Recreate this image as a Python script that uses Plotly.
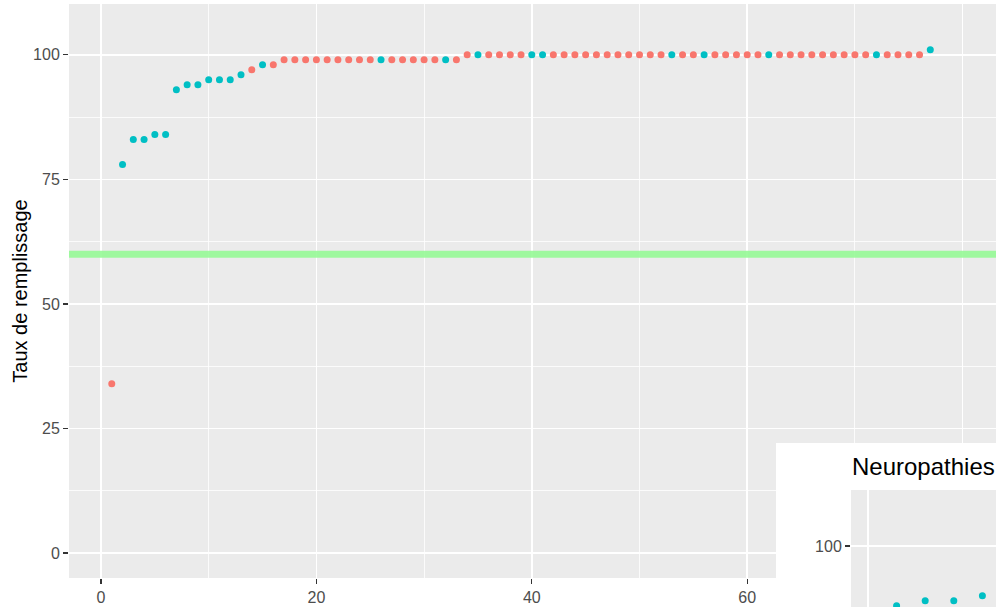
import plotly.graph_objects as go

W, H = 996, 607
FONT = "Liberation Sans, Arial, sans-serif"

# ---- data ----
rank = list(range(1, 78))
taux = [34, 78, 83, 83, 84, 84, 93, 94, 94, 95, 95, 95, 96, 97, 98, 98,
        99, 99, 99, 99, 99, 99, 99, 99, 99, 99, 99, 99, 99, 99, 99, 99, 99,
        100, 100, 100, 100, 100, 100, 100, 100, 100, 100, 100, 100, 100, 100,
        100, 100, 100, 100, 100, 100, 100, 100, 100, 100, 100, 100, 100, 100,
        100, 100, 100, 100, 100, 100, 100, 100, 100, 100, 100, 100, 100, 100,
        100, 101]
teal_ranks = [2, 3, 4, 5, 6, 7, 8, 9, 10, 11, 12, 13, 15, 26, 32, 35, 40, 41,
              53, 56, 62, 72, 77]
group = ["B" if r in teal_ranks else "A" for r in rank]
threshold = 60

inset_title = "Neuropathies"
inset_rank = [1, 2, 3, 4]
inset_taux = [88, 89, 89, 90]

x_ticks = [0, 20, 40, 60, 80]
y_ticks = [0, 25, 50, 75, 100]

RED, TEAL = "#F8766D", "#00BFC4"

X_RANGE = [-2.97, 83.1]
Y_RANGE = [-5.0, 110.2]

fig = go.Figure()
for g, col in (("A", RED), ("B", TEAL)):
    xs = [r for r, gg in zip(rank, group) if gg == g]
    ys = [v for v, gg in zip(taux, group) if gg == g]
    fig.add_trace(go.Scatter(x=xs, y=ys, mode="markers", name=g,
                             marker=dict(color=col, size=7, line=dict(width=0)),
                             xaxis="x", yaxis="y", showlegend=False,
                             hoverinfo="skip"))

# empty trace to create the white inset panel subplot
fig.add_trace(go.Scatter(x=[None], y=[None], xaxis="x2", yaxis="y2",
                         showlegend=False, hoverinfo="skip"))

fig.add_trace(go.Scatter(x=inset_rank, y=inset_taux, mode="markers",
                         marker=dict(color=TEAL, size=7, line=dict(width=0)),
                         xaxis="x3", yaxis="y3", showlegend=False,
                         hoverinfo="skip"))

def px_x(p):
    return p / W

def px_y(p):
    return 1 - p / H

tickfont = dict(family=FONT, size=16, color="#4D4D4D")
common_axis = dict(showline=False, zeroline=False, gridcolor="white",
                   gridwidth=1.6, ticks="outside", ticklen=5, tickwidth=1.3,
                   tickcolor="#333333", tickfont=tickfont)

fig.update_layout(
    width=W, height=H,
    paper_bgcolor="white", plot_bgcolor="#EBEBEB",
    margin=dict(l=0, r=0, t=0, b=0),
    font=dict(family=FONT),
    xaxis=dict(domain=[px_x(69), 1], anchor="y", range=X_RANGE,
               tickvals=x_ticks, minor=dict(dtick=10, tick0=0, showgrid=True,
                                            gridcolor="white", gridwidth=0.8, ticks=""),
               **common_axis),
    yaxis=dict(domain=[px_y(578), px_y(4)], anchor="x", range=Y_RANGE,
               tickvals=y_ticks, minor=dict(dtick=12.5, tick0=0, showgrid=True,
                                            gridcolor="white", gridwidth=0.8, ticks=""),
               title=dict(text="Taux de remplissage",
                          font=dict(family=FONT, size=20, color="black"),
                          standoff=0),
               **common_axis),
    xaxis2=dict(domain=[px_x(776), 1], anchor="y2", visible=False, range=[0, 1]),
    yaxis2=dict(domain=[0, px_y(443)], anchor="x2", visible=False, range=[0, 1]),
    xaxis3=dict(domain=[px_x(851), 1], anchor="y3", range=[-0.594, 4.476],
                dtick=10, tick0=0, showticklabels=False, showline=False,
                zeroline=False, gridcolor="white", gridwidth=1.6, ticks=""),
    yaxis3=dict(domain=[0, px_y(490)], anchor="x3", range=[87.75, 111.24],
                tickvals=y_ticks, minor=dict(dtick=12.5, tick0=0, showgrid=True,
                                             gridcolor="white", gridwidth=0.8, ticks=""),
                **common_axis),
)

# threshold line (drawn above gridlines)
fig.add_shape(type="line", layer="between", xref="x", yref="y",
              x0=X_RANGE[0], x1=X_RANGE[1], y0=threshold, y1=threshold,
              line=dict(color="rgba(150,250,150,0.9)", width=7))

# white background of the inset (sits in its own subplot, above the main panel)
fig.add_shape(type="rect", layer="below", xref="x2", yref="y2",
              x0=0, x1=1, y0=0, y1=1, fillcolor="white", line=dict(width=0))

fig.add_annotation(text=inset_title, xref="paper", yref="paper",
                   x=px_x(850), y=px_y(466), xanchor="left", yanchor="middle",
                   showarrow=False, font=dict(family=FONT, size=24, color="black"))

fig.write_html("out.html", config={"staticPlot": True},
               post_script="document.body.style.margin='0';")
